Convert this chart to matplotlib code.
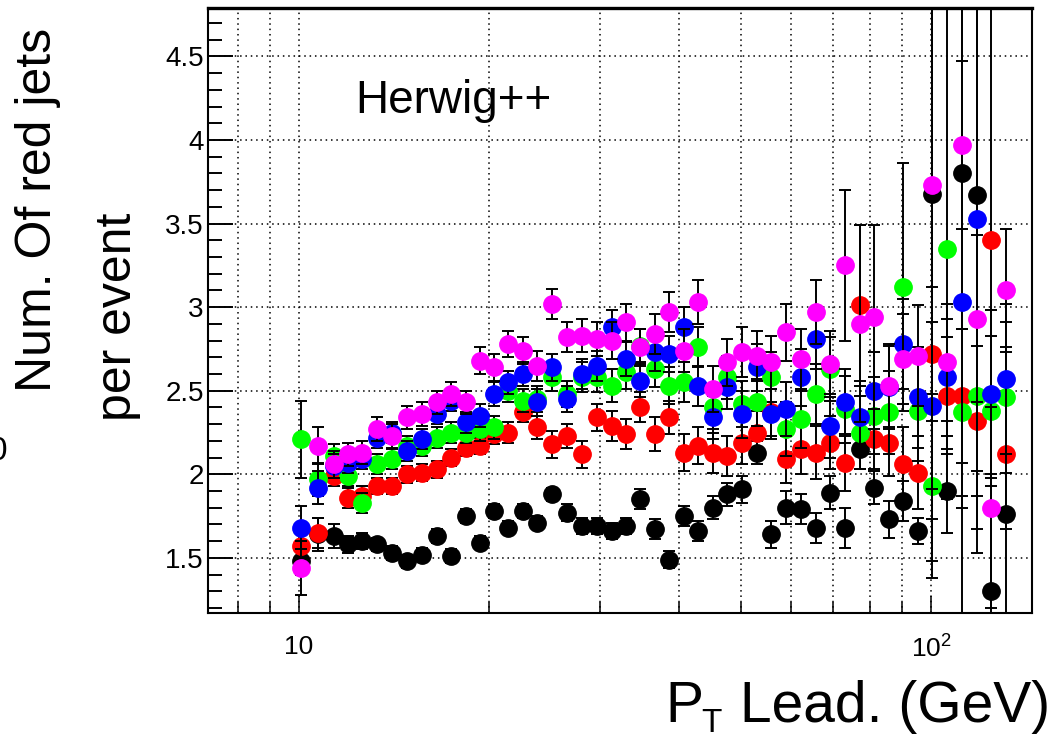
import numpy as np
import matplotlib
matplotlib.use('Agg')
from matplotlib import pyplot as plt
from matplotlib.ticker import NullFormatter, MultipleLocator, LogLocator, FuncFormatter

plt.rcParams['font.family'] = ['Liberation Sans', 'DejaVu Sans']
plt.rcParams['mathtext.fontset'] = 'custom'
plt.rcParams['mathtext.rm'] = 'Liberation Sans'

# Bin centres (GeV), shared by all five curves
pt = [10.07, 10.72, 11.36, 11.96, 12.58, 13.29, 14.03, 14.82, 15.65, 16.54,
      17.40, 18.38, 19.34, 20.35, 21.42, 22.62, 23.80, 25.14, 26.55, 28.04,
      29.62, 31.28, 32.92, 34.64, 36.59, 38.50, 40.66, 42.79, 45.19, 47.56,
      50.23, 53.05, 55.82, 58.96, 62.27, 65.77, 69.22, 73.11, 77.21, 81.25,
      85.82, 90.31, 95.37, 100.4, 106.0, 112.0, 118.2, 124.5, 131.5]

black = [1.48, 1.64, 1.63, 1.58, 1.60, 1.58, 1.53, 1.48, 1.52, 1.63,
         1.51, 1.75, 1.59, 1.78, 1.68, 1.78, 1.71, 1.88, 1.77, 1.69,
         1.69, 1.66, 1.69, 1.85, 1.67, 1.49, 1.75, 1.66, 1.80, 1.88,
         1.91, 2.13, 1.64, 1.80, 1.79, 1.68, 1.89, 1.68, 2.15, 1.92,
         1.73, 1.84, 1.66, 3.68, 1.90, 3.80, 3.67, 1.30, 1.76]
black_err = [0.08, 0.10, 0.07, 0.05, 0.05, 0.04, 0.04, 0.04, 0.04, 0.04,
             0.04, 0.04, 0.04, 0.04, 0.04, 0.04, 0.04, 0.04, 0.05, 0.05,
             0.05, 0.05, 0.05, 0.06, 0.06, 0.05, 0.06, 0.06, 0.07, 0.07,
             0.08, 0.07, 0.08, 0.10, 0.09, 0.09, 0.10, 0.12, 0.12, 0.10,
             0.11, 0.12, 0.08, 2.2, 0.25, 2.0, 2.0, 0.70, 1.0]

red = [1.57, 1.65, 1.99, 1.86, 1.87, 1.93, 1.93, 2.00, 2.01, 2.03,
       2.10, 2.16, 2.17, 2.24, 2.25, 2.37, 2.28, 2.18, 2.23, 2.12,
       2.34, 2.29, 2.24, 2.40, 2.24, 2.34, 2.13, 2.17, 2.13, 2.11,
       2.19, 2.25, 2.37, 2.09, 2.15, 2.13, 2.19, 2.07, 3.01, 2.21,
       2.19, 2.06, 2.01, 2.72, 2.47, 2.47, 2.32, 3.40, 2.12]
red_err = [0.10, 0.09, 0.06, 0.06, 0.06, 0.05, 0.05, 0.05, 0.05, 0.05,
           0.05, 0.05, 0.05, 0.06, 0.06, 0.06, 0.07, 0.08, 0.07, 0.08,
           0.08, 0.09, 0.09, 0.09, 0.10, 0.10, 0.11, 0.11, 0.12, 0.12,
           0.13, 0.13, 0.14, 0.14, 0.15, 0.16, 0.16, 0.17, 0.48, 0.18,
           0.20, 0.22, 0.22, 0.40, 0.35, 0.40, 0.45, 1.6, 0.45]

green = [2.21, 1.97, 2.11, 1.99, 1.83, 2.06, 2.09, 2.17, 2.17, 2.22,
         2.25, 2.25, 2.27, 2.28, 2.50, 2.44, 2.45, 2.58, 2.48, 2.58,
         2.58, 2.53, 2.61, 2.77, 2.63, 2.53, 2.55, 2.76, 2.40, 2.58,
         2.42, 2.43, 2.58, 2.27, 2.33, 2.48, 2.63, 2.39, 2.25, 2.35,
         2.37, 3.12, 2.38, 1.93, 3.35, 2.37, 2.47, 2.38, 2.46]
green_err = [0.23, 0.10, 0.07, 0.06, 0.06, 0.06, 0.06, 0.06, 0.06, 0.06,
             0.06, 0.06, 0.07, 0.07, 0.07, 0.07, 0.08, 0.08, 0.08, 0.09,
             0.09, 0.10, 0.10, 0.10, 0.11, 0.11, 0.12, 0.12, 0.13, 0.13,
             0.14, 0.14, 0.15, 0.16, 0.17, 0.18, 0.19, 0.20, 0.22, 0.23,
             0.25, 0.74, 0.30, 0.55, 1.5, 0.50, 0.45, 0.45, 0.45]

blue = [1.68, 1.92, 2.05, 2.07, 2.09, 2.22, 2.25, 2.14, 2.21, 2.36,
        2.44, 2.31, 2.35, 2.48, 2.55, 2.60, 2.43, 2.64, 2.45, 2.60,
        2.65, 2.88, 2.69, 2.56, 2.73, 2.72, 2.88, 2.53, 2.34, 2.52,
        2.36, 2.64, 2.36, 2.39, 2.58, 2.81, 2.29, 2.43, 2.34, 2.50,
        2.52, 2.78, 2.46, 2.41, 2.58, 3.03, 3.53, 2.48, 2.57]
blue_err = [0.13, 0.10, 0.07, 0.06, 0.06, 0.06, 0.06, 0.06, 0.06, 0.06,
            0.06, 0.06, 0.07, 0.07, 0.07, 0.07, 0.08, 0.08, 0.08, 0.09,
            0.09, 0.10, 0.10, 0.10, 0.11, 0.11, 0.12, 0.12, 0.13, 0.13,
            0.14, 0.14, 0.15, 0.16, 0.17, 0.18, 0.19, 0.20, 0.22, 0.23,
            0.25, 0.27, 0.30, 0.50, 0.35, 2.0, 2.0, 0.50, 0.45]

magenta = [1.44, 2.17, 2.06, 2.12, 2.13, 2.27, 2.23, 2.34, 2.36, 2.43,
           2.48, 2.43, 2.68, 2.64, 2.78, 2.74, 2.65, 3.02, 2.82, 2.83,
           2.81, 2.80, 2.91, 2.76, 2.84, 2.97, 2.74, 3.03, 2.51, 2.67,
           2.73, 2.71, 2.67, 2.85, 2.69, 2.97, 2.66, 3.25, 2.90, 2.94,
           2.53, 2.69, 2.71, 3.73, 2.67, 3.97, 2.93, 1.80, 3.10]
magenta_err = [0.16, 0.11, 0.08, 0.07, 0.07, 0.07, 0.07, 0.07, 0.07, 0.07,
               0.07, 0.07, 0.08, 0.08, 0.08, 0.08, 0.09, 0.09, 0.09, 0.10,
               0.10, 0.11, 0.11, 0.11, 0.12, 0.12, 0.13, 0.13, 0.14, 0.14,
               0.15, 0.15, 0.16, 0.17, 0.18, 0.19, 0.20, 0.45, 0.59, 0.55,
               0.25, 0.27, 0.30, 2.0, 0.35, 0.50, 0.50, 0.60, 0.37]

series = [(black, black_err, 'black'),
          (red, red_err, '#ff0000'),
          (green, green_err, '#00ff00'),
          (blue, blue_err, '#0000ff'),
          (magenta, magenta_err, '#ff00ff')]

fig = plt.figure(figsize=(10.6, 7.38), dpi=100)
ax = fig.add_axes([208/1060, 1-613/738, (1032-208)/1060, (613-8)/738])

for i, (vals, errs, col) in enumerate(series):
    ax.errorbar(pt, vals, yerr=errs, fmt='o', color=col, ms=12.5, mec=col,
                ecolor='black', elinewidth=1.4, capsize=4, capthick=1.4,
                zorder=3+i)

ax.set_xscale('log')
ax.set_xlim(7.18, 144.5)
ax.set_ylim(1.17, 4.79)

ax.set_xticks([10, 100], ['10', r'$\mathregular{10^{2}}$'])
ax.xaxis.set_minor_locator(LogLocator(base=10, subs=np.arange(2, 10)))
ax.xaxis.set_minor_formatter(NullFormatter())
ax.yaxis.set_major_locator(MultipleLocator(0.5))
ax.yaxis.set_minor_locator(MultipleLocator(0.1))
ax.yaxis.set_major_formatter(FuncFormatter(lambda v, p: f'{v:g}'))

ax.tick_params(axis='x', which='major', direction='in', length=12, width=1.1,
               labelsize=19, pad=16, top=False)
ax.tick_params(axis='x', which='minor', direction='in', length=8, width=1.1,
               top=False)
ax.tick_params(axis='y', which='major', direction='in', length=18, width=1.4,
               labelsize=20, pad=3, right=False)
ax.tick_params(axis='y', which='minor', direction='in', length=10, width=1.4,
               right=False)

# Dotted grid like ROOT
ax.xaxis.grid(True, which='both', color='black', linestyle=(0, (1, 2.5)), lw=1.1)
ax.yaxis.grid(True, which='major', color='black', linestyle=(0, (1, 2.5)), lw=1.1)
ax.set_axisbelow(True)

for s in ['left', 'right', 'bottom']:
    ax.spines[s].set_linewidth(1.5)
ax.spines['top'].set_linewidth(2.4)

# Text
fig.text(355/1060, 1-113/738, 'Herwig++', fontsize=33, va='baseline', ha='left')

fig.text(38/1060, 1-210/738, 'Num. Of red jets', fontsize=36, rotation=90,
         ha='center', va='center')
fig.text(118/1060, 1-317/738, 'per event', fontsize=36, rotation=90,
         ha='center', va='center')

fig.text(665/1060, 1-722/738, 'P', fontsize=41, ha='left', va='baseline')
fig.text(701/1060, 1-732/738, 'T', fontsize=24, ha='left', va='baseline')
fig.text(1050/1060, 1-722/738, 'Lead. (GeV)', fontsize=41, ha='right', va='baseline')

# piece of the neighbouring panel at the left border
fig.text(-11/1060, 1-452/738, '0', fontsize=24, ha='left', va='center')

fig.savefig('out.png', dpi=100)
